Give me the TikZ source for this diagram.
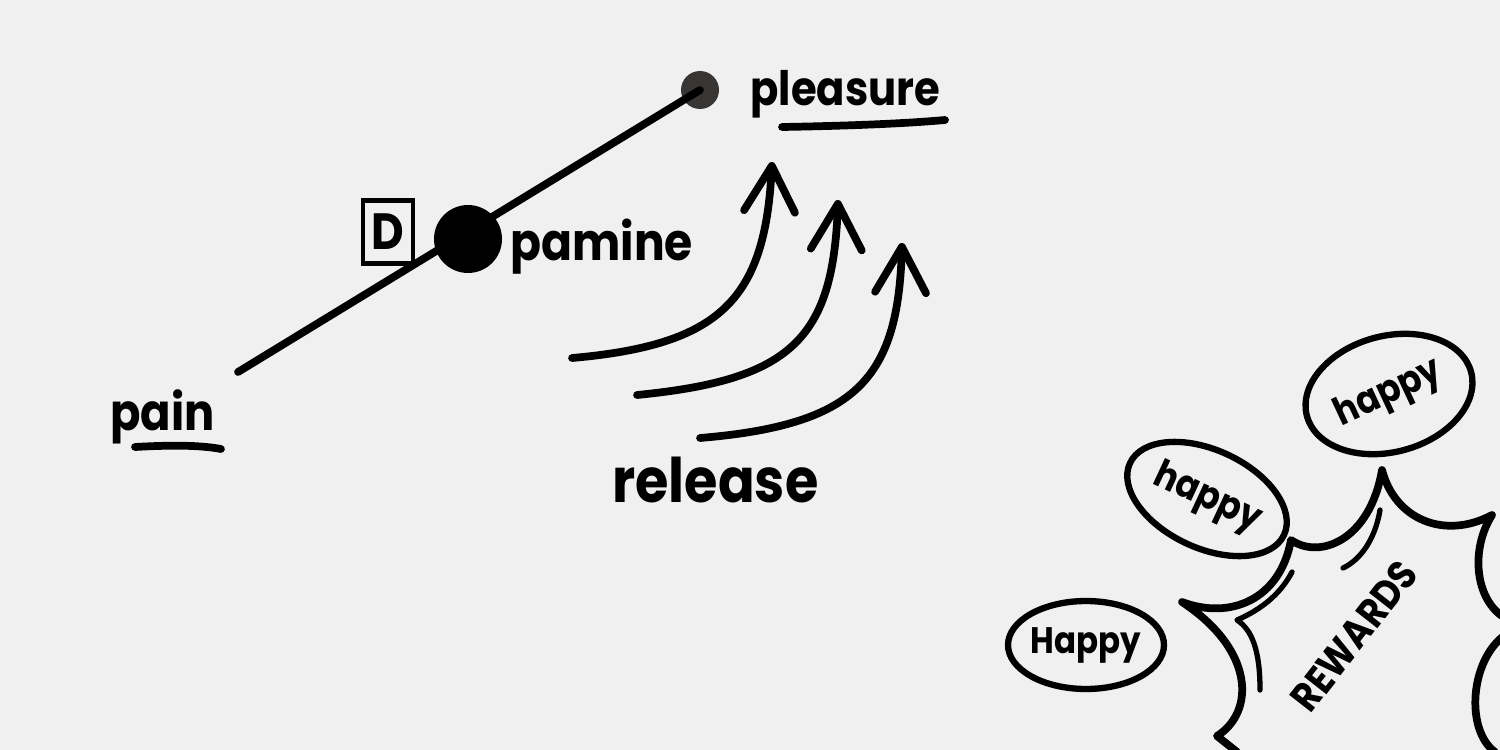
\documentclass[tikz,border=0pt]{standalone}
\usepackage{fontspec}
\setmainfont{Poppins}[FakeStretch=0.88]
\usetikzlibrary{arrows.meta,shapes.geometric}
\definecolor{bg}{HTML}{F0F0F0}
\definecolor{dotgrey}{HTML}{383634}
\begin{document}
\begin{tikzpicture}[x=0.02cm,y=-0.02cm,
  ink/.style={line width=4.4pt,line cap=round,line join=round},
  shade/.style={line width=3pt,line cap=round,line join=round},
  bubble/.style={ellipse,draw,line width=3.6pt,inner sep=0pt},
  uparrow/.style={ink,-{Straight Barb[length=26pt,width=29pt,round]}},
  hand/.style={inner sep=0pt,font=\bfseries\fontsize{#1}{#1}\selectfont},
]
\path[fill=bg] (0,0) rectangle (1500,750);
\clip (0,0) rectangle (1500,750);

% pain -- pleasure scale
\node[circle,fill=dotgrey,minimum size=0.76cm,inner sep=0pt] (pdot) at (700,90) {};
\coordinate (painend) at (238,372);
\draw[ink] (painend) -- (pdot.center);
\node[circle,fill=black,minimum size=1.36cm,inner sep=0pt] (dopa) at (468,239) {};
\node[draw,line width=2.4pt,minimum width=1.0cm,minimum height=1.26cm,inner sep=0pt,
      hand=29pt] (dbox) at (388,232) {D};

\node[hand=29pt,anchor=base west] (pain) at (110,430) {pain};
\draw[ink] (135,447) .. controls (170,445) and (200,445) .. (221,449);
\node[hand=29.5pt,anchor=base west] (pamine) at (510,260) {pamine};
\node[hand=27pt,anchor=base west] (pleasure) at (750,106) {pleasure};
\draw[ink] (782,127) .. controls (840,126) and (900,124) .. (945,120);
\node[hand=35pt,anchor=base west] (release) at (612,502) {release};

% release arrows
\coordinate (a1s) at (572,358); \coordinate (a1e) at (772,162);
\coordinate (a2s) at (637,395); \coordinate (a2e) at (838,200);
\coordinate (a3s) at (700,438); \coordinate (a3e) at (902,243);
\draw[uparrow] (a1s) .. controls (720,345) and (765,300) .. (a1e);
\draw[uparrow] (a2s) .. controls (790,380) and (833,340) .. (a2e);
\draw[uparrow] (a3s) .. controls (855,425) and (898,380) .. (a3e);

% rewards burst
\draw[ink] (1237,752) -- (1217,736)
  .. controls (1255,712) and (1255,650) .. (1182,602)
  .. controls (1230,620) and (1280,600) .. (1291,540)
  .. controls (1320,560) and (1370,540) .. (1382,470)
  .. controls (1395,520) and (1445,540) .. (1492,515)
  .. controls (1470,550) and (1475,600) .. (1505,618);
\draw[ink] (1505,635) .. controls (1470,660) and (1465,730) .. (1495,752);
\draw[shade] (1260,690) .. controls (1260,650) and (1252,630) .. (1237,620)
  .. controls (1260,610) and (1280,595) .. (1292,572);
\draw[shade] (1380,510) .. controls (1375,540) and (1360,560) .. (1343,568);
\node[hand=23pt,rotate=52] (rewards) at (1354,636) {REWARDS};

% bubbles
\node[bubble,minimum width=3.12cm,minimum height=1.76cm] (b1) at (1086,645) {};
\node[hand=21pt] (t1) at (b1.center) {Happy};
\node[bubble,minimum width=3.4cm,minimum height=1.96cm,rotate=-25] (b2) at (1207,499) {};
\node[hand=22pt,rotate=-25] (t2) at (b2.center) {happy};
\node[bubble,minimum width=3.4cm,minimum height=2.32cm,rotate=15] (b3) at (1389,394) {};
\node[hand=22pt,rotate=25] (t3) at (b3.center) {happy};
\end{tikzpicture}
\end{document}
